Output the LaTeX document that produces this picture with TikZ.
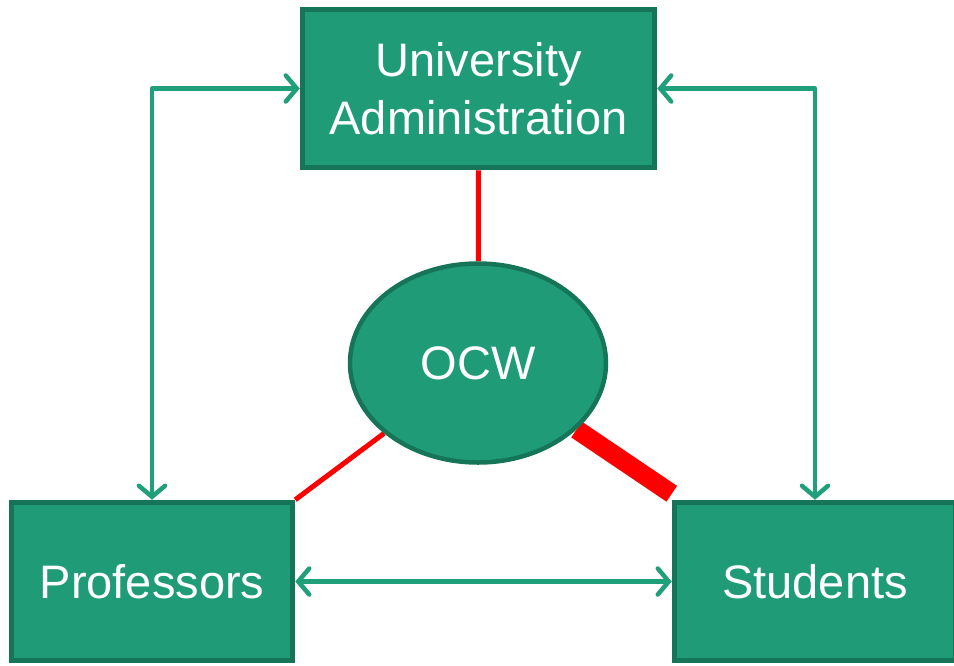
\documentclass[tikz,border=0pt]{standalone}
\usepackage{fontspec}
\setmainfont{Liberation Sans}
\usetikzlibrary{arrows.meta,shapes.geometric,backgrounds}
\definecolor{boxfill}{RGB}{31,156,119}
\definecolor{boxline}{RGB}{22,117,88}
\definecolor{flowgreen}{RGB}{32,160,122}
\begin{document}
\begin{tikzpicture}[x=1pt, y=-1pt,
    party/.style={rectangle, draw=boxline, fill=boxfill, line width=5.5pt, text=white,
      font=\fontsize{47}{58}\selectfont, align=center, inner sep=0pt},
    flow/.style={draw=flowgreen, line width=4.5pt, line join=round, line cap=round,
      {Straight Barb[length=11pt, width=26pt, line cap=round]}-{Straight Barb[length=11pt, width=26pt, line cap=round]}},
    link/.style={draw=red, line width=5pt}]
  \useasboundingbox (0,0) rectangle (954,665);
  \node[party, minimum width=352pt, minimum height=158pt] (univ) at (478.5,88.5) {University\\Administration};
  \node[party, minimum width=281pt, minimum height=158pt] (prof) at (152,581.5) {Professors};
  \node[party, minimum width=281pt, minimum height=158pt] (stud) at (815,581.5) {Students};
  \node[ellipse, draw=boxline, fill=boxfill, line width=4.5pt, text=white,
    font=\fontsize{47}{58}\selectfont, minimum width=256pt, minimum height=199pt,
    inner sep=0pt] (ocw) at (478,363) {OCW};

  \begin{pgfonlayer}{background}
    \draw[link] (univ.south) -- (ocw);
    \draw[link] (prof.north east) -- (ocw);
    \draw[link, line width=19pt] ([yshift=6pt]stud.north west) -- (ocw);
  \end{pgfonlayer}

  \draw[flow] (prof.north) |- (univ.west);
  \draw[flow] (stud.north) |- (univ.east);
  \draw[flow] (prof.east) -- (stud.west);
\end{tikzpicture}
\end{document}
